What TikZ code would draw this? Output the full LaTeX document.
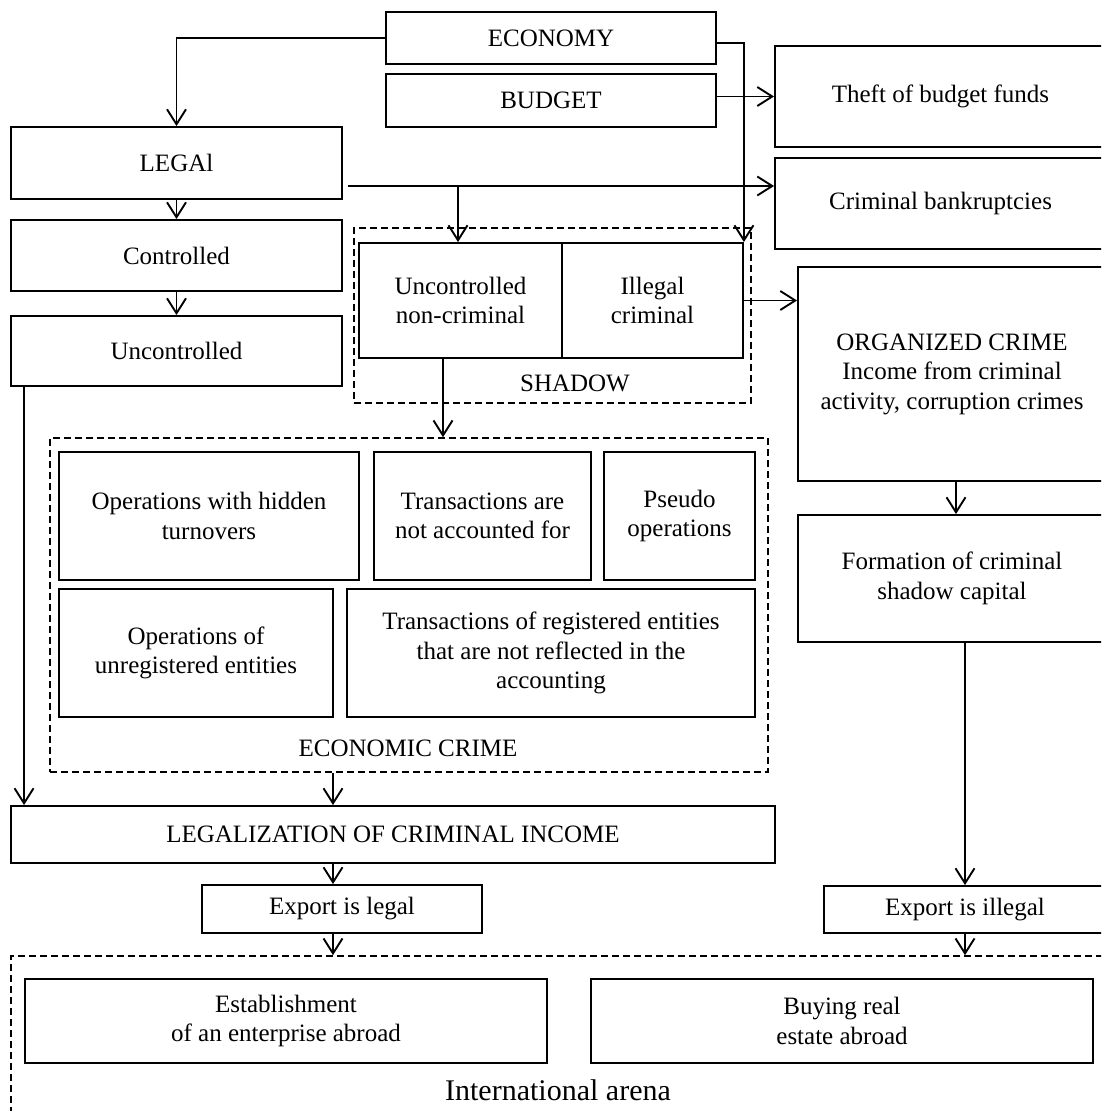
\documentclass[tikz,border=0pt]{standalone}
\usepackage{fontspec}
\setmainfont{Liberation Serif}
\usetikzlibrary{arrows.meta,calc}
\begin{document}
\begin{tikzpicture}[x=1pt,y=-1pt,
 box/.style={draw,line width=1.9pt,inner sep=0pt,align=center,font=\fontsize{25}{29.5}\selectfont},
 dbox/.style={draw,line width=1.6pt,dash pattern=on 7pt off 4pt,inner sep=0pt},
 lbl/.style={inner sep=0pt,font=\fontsize{25}{29.5}\selectfont},
 arr/.style={line width=1.9pt,-{Straight Barb[length=15pt,width=19pt]}}]
\path[use as bounding box] (0,0) rectangle (1101,1111);
\clip (0,0) rectangle (1101,1111);
% containers
\node[dbox,minimum width=397,minimum height=175] (shadowbox) at (552.5,315.5) {};
\node[dbox,minimum width=718,minimum height=334] (ecbox) at (409,605) {};
\node[dbox,minimum width=1099,minimum height=170] (intl) at (560.5,1041) {};
% top
\node[box,minimum width=330,minimum height=52] (econ) at (551,38) {ECONOMY};
\node[box,minimum width=330,minimum height=53] (budget) at (551,100.5) {BUDGET};
\node[box,minimum width=331,minimum height=101] (theft) at (940.5,96.5) {Theft of budget funds};
\node[box,minimum width=331,minimum height=91] (bank) at (940.5,203.5) {Criminal bankruptcies};
% left column
\node[box,minimum width=331,minimum height=72] (legal) at (176.5,163) {LEGAl};
\node[box,minimum width=331,minimum height=71] (ctrl) at (176.5,255.5) {Controlled};
\node[box,minimum width=331,minimum height=70] (unctrl) at (176.5,351) {Uncontrolled};
% shadow
\node[box,minimum width=203,minimum height=115] (unc) at (460.5,300.5) {Uncontrolled\\non-criminal};
\node[box,minimum width=181,minimum height=115] (illegal) at (652.5,300.5) {Illegal\\criminal};
\node[lbl] (shadowlbl) at (575,383) {SHADOW};
% organized
\node[box,minimum width=308,minimum height=214] (org) at (952,374) {ORGANIZED CRIME\\Income from criminal\\activity, corruption crimes};
\node[box,minimum width=308,minimum height=127] (form) at (952,578.5) {Formation of criminal\\shadow capital};
% economic crime
\node[box,minimum width=300,minimum height=128] (opA) at (209,516) {Operations with hidden\\turnovers};
\node[box,minimum width=217,minimum height=128] (opB) at (482.5,516) {Transactions are\\not accounted for};
\node[box,minimum width=151,minimum height=128] (opC) at (679.5,516) {Pseudo\\operations};
\node[box,minimum width=274,minimum height=128] (opD) at (196,653) {Operations of\\unregistered entities};
\node[box,minimum width=408,minimum height=128] (opE) at (551,653) {Transactions of registered entities\\that are not reflected in the\\accounting};
\node[lbl] (eclbl) at (408,748) {ECONOMIC CRIME};
% bottom
\node[box,minimum width=764,minimum height=57] (legz) at (393,834.5) {LEGALIZATION OF CRIMINAL INCOME};
\node[box,minimum width=280,minimum height=48] (expleg) at (342,909) {Export is legal};
\node[box,minimum width=282,minimum height=47] (expill) at (965,909.5) {Export is illegal};
\node[box,minimum width=522,minimum height=84] (estab) at (286,1021) {Establishment\\of an enterprise abroad};
\node[box,minimum width=502,minimum height=84] (buy) at (842,1021) {Buying real\\estate abroad};
\node[inner sep=0pt,font=\fontsize{30}{34}\selectfont] (intllbl) at (558,1090) {International arena};
% connectors
\coordinate (lx) at (333,0);
\draw[arr] (econ.west) -| (legal.north);
\draw[arr] ($(econ.east)+(0,5)$) -| (illegal.north east);
\draw[arr] ($(budget.east)+(0,-4)$) coordinate (bg) -- (bg -| theft.west);
\coordinate (lg) at ($(legal.east)+(5,23)$);
\draw[arr] (lg) -- (lg -| bank.west);
\draw[arr] ($(lg -| unc.north)+(-2.5,0)$) -- ($(unc.north)+(-2.5,0)$);
\draw[arr] (legal.south) -- (ctrl.north);
\draw[arr] (ctrl.south) -- (unctrl.north);
\draw[arr] (illegal.east) -- (illegal.east -| org.west);
\draw[arr] ($(org.south)+(4,0)$) -- ($(form.north)+(4,0)$);
\draw[arr] ($(unc.south)+(-17.5,0)$) coordinate (s1) -- (s1 |- ecbox.north);
\draw[arr] ($(unctrl.south west)+(14,0)$) coordinate (s2) -- (s2 |- legz.north);
\draw[arr] (lx |- ecbox.south) -- (lx |- legz.north);
\draw[arr] (lx |- legz.south) -- (lx |- expleg.north);
\draw[arr] (lx |- expleg.south) -- (lx |- intl.north);
\draw[arr] (expill.north |- form.south) -- (expill.north);
\draw[arr] (expill.south) -- (expill.south |- intl.north);
\end{tikzpicture}
\end{document}
